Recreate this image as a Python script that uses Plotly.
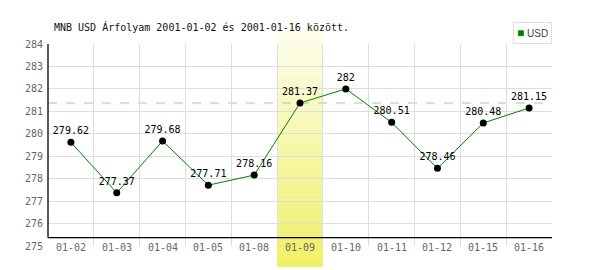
import plotly.graph_objects as go

# ---- data ----
dates = ["01-02", "01-03", "01-04", "01-05", "01-08", "01-09",
         "01-10", "01-11", "01-12", "01-15", "01-16"]
usd_rates = [279.62, 277.37, 279.68, 277.71, 278.16, 281.37,
             282.00, 280.51, 278.46, 280.48, 281.15]
value_labels = ["279.62", "277.37", "279.68", "277.71", "278.16", "281.37",
                "282", "280.51", "278.46", "280.48", "281.15"]
highlight_idx = 5
y_min, y_max = 275, 284
title_text = "MNB USD Árfolyam 2001-01-02 és 2001-01-16 között."

n = len(dates)
xs = list(range(n))

MONO = "DejaVu Sans Mono"
GREEN = "#008000"

fig = go.Figure()
fig.add_trace(go.Scatter(
    x=xs, y=usd_rates, mode="lines+markers+text",
    text=value_labels, textposition="top center",
    textfont=dict(family=MONO, size=10, color="#000000"),
    line=dict(color=GREEN, width=1),
    marker=dict(color="#000000", size=7),
    showlegend=False, cliponaxis=False, hoverinfo="skip",
))

shapes = []
# highlighted day gradient band (paper coords derived from the category index)
x0 = (highlight_idx) / n
x1 = (highlight_idx + 1) / n
band_bottom, band_top = -0.104, 1.07
steps = 60
top_col = (253, 253, 238)
bot_col = (240, 240, 100)
for k in range(steps):
    t0 = k / steps
    t1 = (k + 1) / steps
    f = (k + 0.5) / steps  # 0 bottom -> 1 top
    c = tuple(round(bot_col[j] + (top_col[j] - bot_col[j]) * f) for j in range(3))
    shapes.append(dict(
        type="rect", xref="paper", yref="paper",
        x0=x0, x1=x1,
        y0=band_bottom + (band_top - band_bottom) * t0,
        y1=band_bottom + (band_top - band_bottom) * t1 + 0.002,
        fillcolor="rgb(%d,%d,%d)" % c, line=dict(width=0), layer="between",
    ))
# dashed reference line at the highlighted day's rate
shapes.append(dict(
    type="line", xref="paper", yref="y", x0=0, x1=1,
    y0=usd_rates[highlight_idx], y1=usd_rates[highlight_idx],
    line=dict(color="#a6c8a6", width=1, dash="dash"), layer="below",
))
# black axis lines
axis_y = 0.041
shapes.append(dict(type="line", xref="paper", yref="paper", x0=0, x1=1,
                   y0=axis_y, y1=axis_y, line=dict(color="#000000", width=1.3)))
shapes.append(dict(type="line", xref="paper", yref="paper", x0=0, x1=0,
                   y0=axis_y, y1=1, line=dict(color="#000000", width=1.3)))

annotations = []
for i, d in enumerate(dates):
    annotations.append(dict(
        x=i, y=y_min, xref="x", yref="y", text=d, showarrow=False,
        yanchor="middle", xanchor="center", yshift=-1,
        font=dict(family=MONO, size=10, color="#666666"),
    ))
# legend box
annotations.append(dict(
    x=1, y=1.109, xref="paper", yref="paper", xanchor="right", yanchor="top",
    text="<span style='color:%s;font-size:12px'>■</span> USD" % GREEN,
    showarrow=False,
    bordercolor="#dddddd", borderwidth=1, borderpad=3, bgcolor="#ffffff",
    font=dict(family="Liberation Sans", size=10, color="#444444"),
))

fig.update_layout(
    width=600, height=270,
    margin=dict(l=48, r=48, t=44, b=24),
    paper_bgcolor="#ffffff", plot_bgcolor="#ffffff",
    title=dict(text=title_text, x=54 / 600, xref="container", xanchor="left",
               y=1 - 27 / 270, yanchor="middle",
               font=dict(family=MONO, size=10, color="#111111")),
    xaxis=dict(range=[-0.5, n - 0.5], tick0=-0.5, dtick=1,
               showgrid=True, gridcolor="#dddddd", gridwidth=1,
               showticklabels=False, ticks="", zeroline=False, showline=False,
               fixedrange=True),
    yaxis=dict(range=[y_min, y_max], dtick=1, tick0=y_min,
               showgrid=True, gridcolor="#dddddd", gridwidth=1,
               ticks="", zeroline=False, showline=False,
               ticklabelstandoff=4,
               tickfont=dict(family=MONO, size=10, color="#666666"),
               fixedrange=True),
    shapes=shapes, annotations=annotations,
    showlegend=False,
)

fig.write_html("out.html")
